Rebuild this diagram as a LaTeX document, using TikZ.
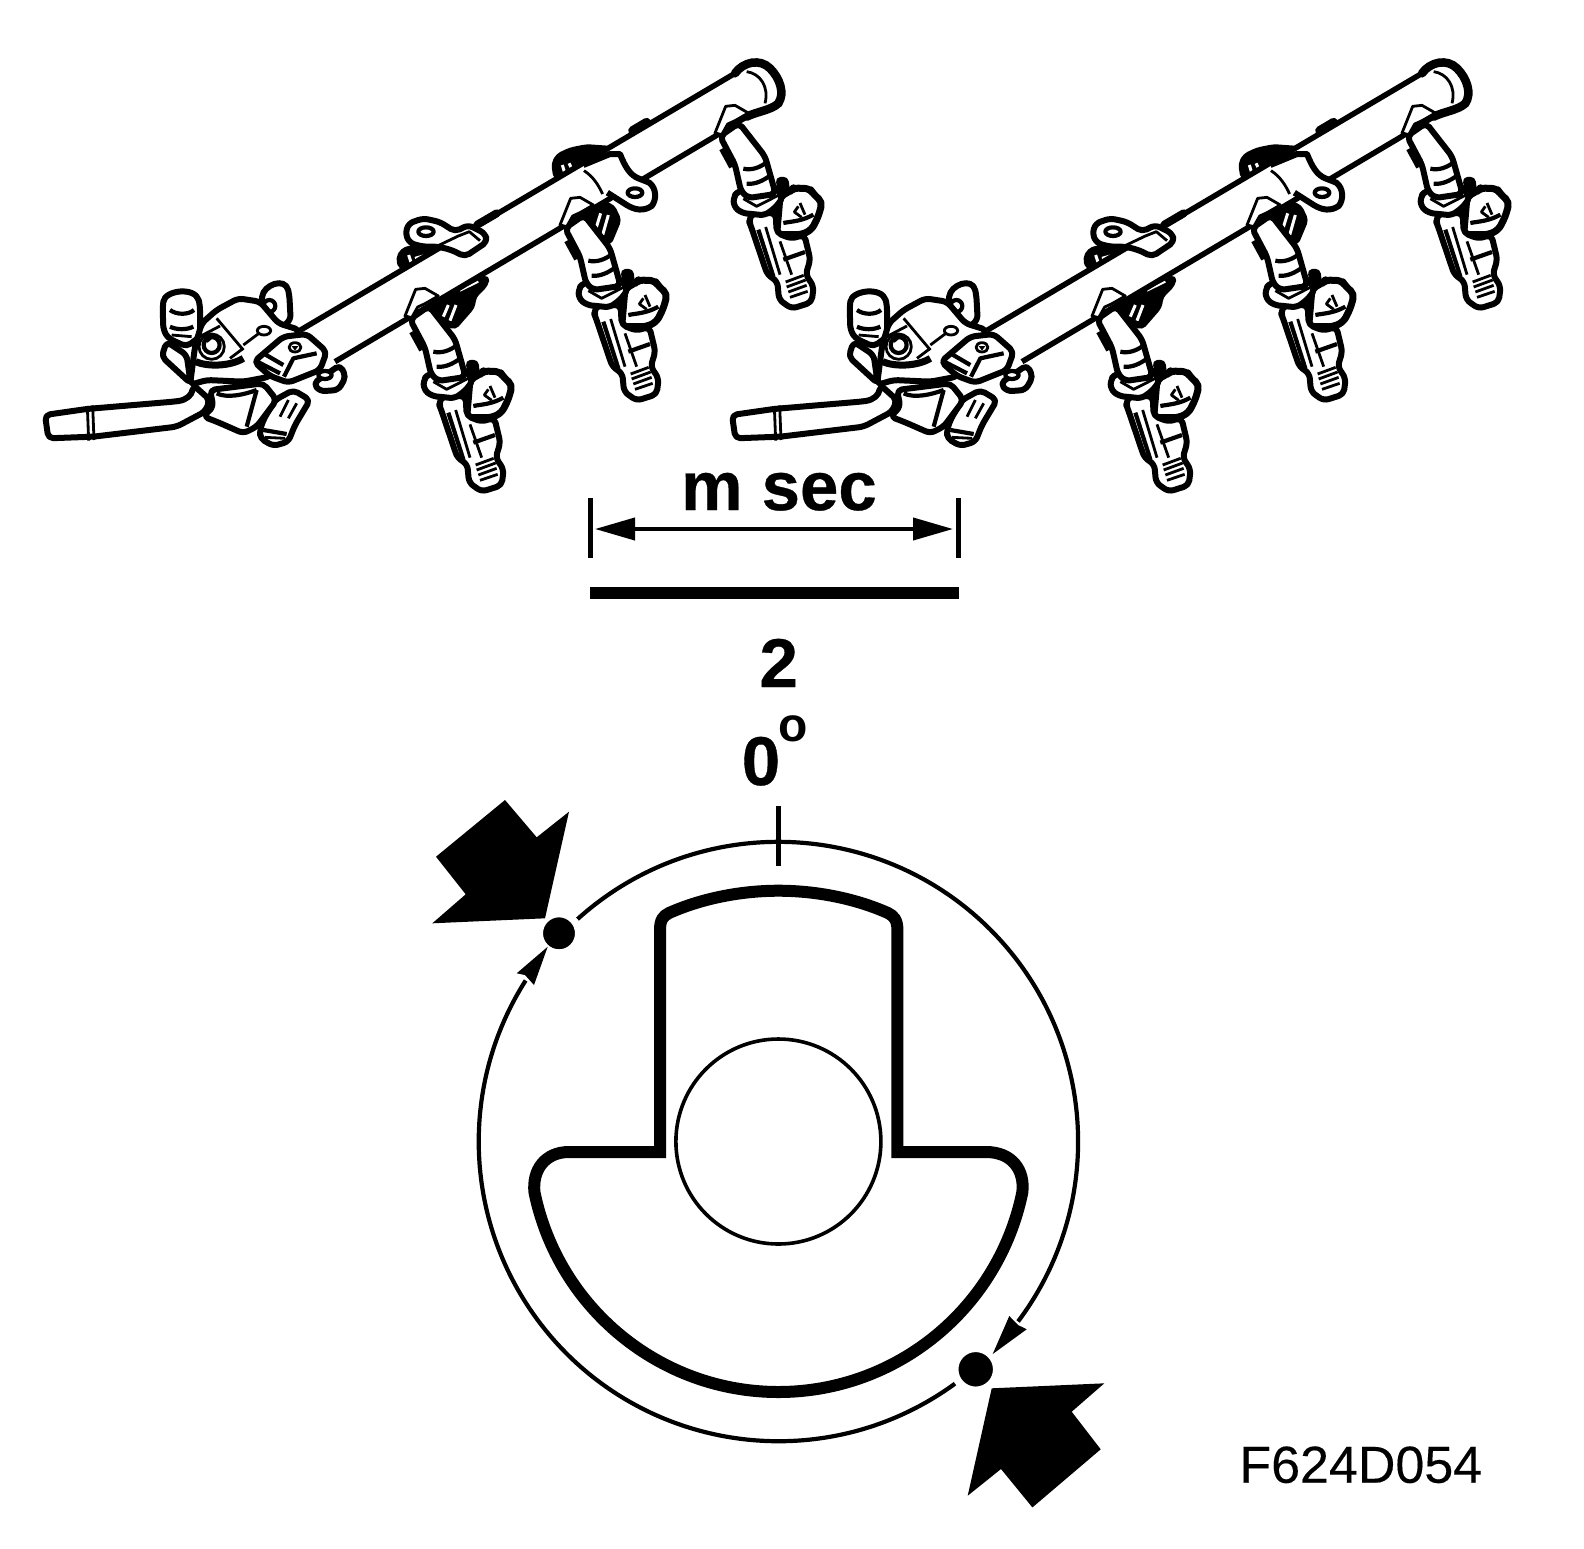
\documentclass[tikz,border=0pt]{standalone}
\usepackage{fontspec}
\setmainfont{Liberation Sans}
\newfontfamily\heavyfont{Liberation Sans}[BoldFeatures={FakeBold=0.5}]
\newfontfamily\codefont{Liberation Sans}[FakeBold=0.25]
\usetikzlibrary{arrows.meta}
\tikzset{
    boldline/.style={line width=6pt, line join=round, fill=white, rounded corners=5pt},
    fineline/.style={line width=2.8pt, line join=round},
    midline/.style={line width=4.2pt, line join=round},
    blackpart/.style={fill=black, draw=black, line width=3pt, line join=round, rounded corners=4pt},
    titletext/.style={font=\fontsize{69}{72}\selectfont\heavyfont\bfseries, inner sep=0pt, anchor=base},
    markdot/.style={circle, fill=black, draw=white, line width=7pt, inner sep=0pt},
    bigarrow/.style={fill=black},
    % Iniettore, coordinate del riquadro centrale
    injector/.pic={
        \begin{scope}[shift={(380,50)}, scale=1/3]
            % Connettore
            \draw[boldline, line width=7pt] (735,715) -- (765,700) -- (775,690) -- (825,692) -- (835,708) -- (862,732) -- (850,775) -- (830,815) -- (800,830) -- (725,830) -- cycle;
            \draw[fineline] (790,745) -- (778,762) -- (800,778);
            \draw[fineline] (795,735) -- (810,770);
            \draw[midline] (745,795) .. controls (770,790) and (800,790) .. (835,770);
            % Corpo inferiore
            \draw[boldline] (648,805) -- (697,950) -- (727,970) -- (732,1025) -- (770,1052) -- (830,1033) -- (836,985) -- (812,950) -- (826,905) -- (808,830) -- (770,842) -- (725,825) -- (722,765) -- (655,765) -- (640,785) -- cycle;
            \draw[midline] (670,815) -- (715,955);
            \draw[fineline] (692,807) -- (735,950);
            \draw[fineline] (735,850) -- (770,950);
            \draw[midline] (745,905) -- (810,882);
            % Filetti
            \draw[fineline] (752,972) -- (806,952);
            \draw[fineline] (755,987) -- (812,966);
            \draw[fineline] (760,1002) -- (815,982);
            \draw[fineline] (765,1018) -- (818,1000);
            % Collare
            \draw[boldline] (610,700) -- (596,715) -- (596,745) -- (620,765) -- (690,772) -- (725,745) -- (745,715) -- (700,670) -- cycle;
            \draw[blackpart] (725,662) -- (756,660) -- (760,698) -- (738,715) -- cycle;
            % Tubo
            \draw[boldline] (555,535) -- (600,620) -- (618,700) -- (640,720) -- (722,708) -- (690,595) -- (612,495) -- cycle;
            \draw[line width=9pt] (565,570) -- (595,625);
            \draw[midline] (625,632) .. controls (650,638) and (675,628) .. (692,615);
            \draw[midline] (635,677) .. controls (660,680) and (685,668) .. (706,652);
            \draw[fineline] (625,722) -- (665,745) -- (730,712);
            % Raccordo
            \draw[fineline, fill=white] (540,525) -- (572,445) -- (600,442) -- (640,465) -- (600,488) -- (578,498) -- (560,530) -- cycle;
        \end{scope}
    },
    % Gruppo completo: collettore, staffe, regolatore
    railunit/.pic={
        \begin{scope}[shift={(380,50)}, scale=1/3]
            % Fermagli dietro
            \draw[blackpart] (620,490) -- (650,450) -- (700,468) -- (720,510) -- (690,582) -- (640,545) -- cycle;
            \draw[white, line width=3pt] (662,490) -- (648,535);
            \draw[white, line width=3pt] (685,495) -- (668,555);
            \draw[blackpart] (155,760) -- (190,720) -- (240,700) -- (325,680) -- (320,705) -- (285,740) -- (280,772) -- (225,835) -- (175,815) -- cycle;
            \draw[white, line width=3pt] (205,765) -- (190,800);
            \draw[white, line width=3pt] (228,765) -- (210,812);
            \draw[white, line width=2pt] (240,722) -- (295,695);
            % Linguette dietro
            \draw[blackpart] (518,342) -- (532,315) -- (570,297) -- (620,287) -- (690,292) -- (610,345) -- (600,370) -- (525,385) -- cycle;
            \draw[white, line width=3pt] (547,345) -- (553,365);
            \draw[white, line width=3pt] (567,340) -- (577,360);
            \draw[blackpart] (52,625) -- (65,600) -- (90,590) -- (170,595) -- (195,605) -- (60,655) -- cycle;
            \draw[white, line width=3pt] (86,615) -- (94,640);
            \draw[white, line width=3pt] (105,625) -- (130,618);
            % Collettore
            \draw[boldline, line width=5.5pt, rounded corners=0pt] (-240,841) -- (1065,70) .. controls (1090,35) and (1140,25) .. (1170,55) .. controls (1200,85) and (1215,130) .. (1195,160) .. controls (1175,180) and (1130,185) .. (1100,200) -- (1000,262) -- (-135,935);
            \draw[line width=8.5pt, line cap=round] (1065,70) .. controls (1090,35) and (1140,25) .. (1170,55) .. controls (1200,85) and (1215,130) .. (1195,160) .. controls (1175,180) and (1130,185) .. (1100,200);
            \draw[line width=9pt, line cap=round] (758,242) -- (800,217);
            \draw[line width=8pt, line cap=round] (292,524) -- (350,490);
            \draw[fineline] (1100,65) .. controls (1140,70) and (1168,110) .. (1155,160);
            % Staffa destra
            \fill[white] (612,352) -- (690,315) -- (725,315) -- (750,370) -- (812,400) -- (825,430) -- (815,462) -- (785,478) -- (740,462) -- (680,430) -- cycle;
            \draw[boldline, fill=none, rounded corners=0pt] (610,345) -- (690,312) -- (720,312) .. controls (735,350) and (750,375) .. (775,385) -- (808,398) .. controls (830,415) and (830,450) .. (815,468) .. controls (790,485) and (765,480) .. (740,465) -- (682,428);
            \draw[fineline] (612,362) .. controls (640,380) and (655,405) .. (668,432);
            \draw[midline, fill=white] (765,428) ellipse (22 and 13);
            % Staffa sinistra
            \draw[boldline] (76,552) -- (86,520) -- (130,505) -- (180,516) -- (225,545) -- (265,525) -- (315,550) -- (322,575) -- (255,620) -- (215,600) -- (175,590) -- (130,590) -- (90,580) -- cycle;
            \draw[fineline] (168,590) -- (235,558) -- (268,545) -- (300,572);
            \draw[midline, fill=white] (138,545) ellipse (23 and 13);
        \end{scope}
        % Iniettori
        \pic at (-155,91) {injector};
        \pic at (0,0) {injector};
        \pic at (155,-92) {injector};
        \begin{scope}[shift={(30,230)}, scale=1/3]
            % Cilindro
            \draw[boldline] (400,300) -- (398,230) .. controls (405,180) and (495,170) .. (510,225) -- (510,320) -- (470,350) -- (415,325) -- cycle;
            \draw[midline] (420,240) .. controls (440,255) and (475,255) .. (492,240);
            \draw[midline] (420,290) .. controls (440,300) and (470,300) .. (490,290);
            \draw[fineline] (425,315) -- (485,320);
            \draw[boldline] (395,380) -- (410,335) -- (470,375) -- (482,460) -- cycle;
            % Spezzone di iniettore
            \draw[boldline] (735,510) -- (790,480) -- (840,510) -- (795,585) -- (775,635) -- (730,648) -- (690,625) -- (690,600) -- (700,570) -- cycle;
            \draw[fineline] (775,510) -- (750,560);
            \draw[fineline] (800,520) -- (775,565);
            \draw[midline] (700,600) -- (770,612);
            \draw[fineline] (705,622) -- (765,625);
            % Tubo di mandata
            \draw[boldline] (45,555) -- (170,537) -- (430,515) .. controls (470,510) and (485,495) .. (490,465) -- (540,510) -- (525,545) -- (440,590) -- (190,620) -- (55,625) -- cycle;
            \draw[fineline] (172,528) -- (176,632);
            \draw[fineline] (188,526) -- (192,630);
            % Corpo inferiore
            \draw[boldline] (540,480) -- (550,530) -- (520,560) -- (560,575) -- (640,610) -- (680,590) -- (740,510) -- (700,460) -- cycle;
            \draw[midline] (560,490) .. controls (590,505) and (640,495) .. (680,480);
            \draw[midline] (680,480) -- (650,590);
            % Perno posteriore
            \draw[boldline] (695,215) .. controls (700,165) and (765,140) .. (778,195) -- (782,270) -- (745,300) -- (690,260) -- cycle;
            \draw[midline] (718,228) circle (18);
            \draw[fineline] (712,262) circle (12);
            % Corpo regolatore
            \draw[boldline] (480,465) -- (495,350) -- (515,280) -- (560,240) -- (625,205) -- (690,215) -- (745,280) -- (810,300) -- (720,440) -- (640,455) -- (530,450) -- cycle;
            \draw[line width=7pt] (497,395) .. controls (530,410) and (600,410) .. (640,385);
            \draw[fineline] (560,265) -- (640,360);
            \draw[fineline] (505,322) -- (570,288);
            \draw[fineline] (640,345) -- (700,300);
            \draw[fineline] (545,350) circle (38);
            \draw[midline] (545,345) circle (24);
            \draw[fineline] (530,335) -- (550,318) -- (570,335);
            \draw[fineline, fill=white] (702,302) ellipse (20 and 13);
            \draw[fineline] (600,385) -- (640,355);
            % Staffa con foro
            \draw[boldline] (850,460) -- (930,405) -- (948,440) -- (925,480) -- (870,484) -- cycle;
            \draw[midline, fill=white] (885,435) ellipse (20 and 12);
            % Sensore
            \draw[boldline] (672,395) -- (760,320) -- (830,312) -- (890,365) -- (870,420) -- (775,458) -- (720,438) -- cycle;
            \draw[midline] (700,370) -- (760,405);
            \draw[midline] (682,395) -- (750,430);
            \draw[midline] (762,440) -- (790,385) -- (860,370);
            \draw[fineline] (795,352) ellipse (18 and 14);
            \fill (785,348) -- (805,348) -- (795,362) -- cycle;
        \end{scope}
    }
}
\begin{document}
\begin{tikzpicture}[x=1pt, y=-1pt]
    \useasboundingbox (0,0) rectangle (1584,1548);
    \fill[white] (0,0) rectangle (1584,1548);

    % Due collettori
    \pic at (0,0) {railunit};
    \pic at (687,0) {railunit};

    % Quota
    \node[titletext] (msec) at (779,510) {m sec};
    \coordinate (tickLtop) at (590.5,498);
    \coordinate (tickLbot) at (590.5,558);
    \coordinate (tickRtop) at (958.5,498);
    \coordinate (tickRbot) at (958.5,558);
    \coordinate (dimL) at (595,529);
    \coordinate (dimR) at (953,529);
    \coordinate (barL) at (590,593);
    \coordinate (barR) at (959,593);
    \draw[line width=5pt] (tickLtop) -- (tickLbot);
    \draw[line width=5pt] (tickRtop) -- (tickRbot);
    \draw[line width=4pt, {Triangle[length=40pt,width=22pt]}-{Triangle[length=40pt,width=22pt]}] (dimL) -- (dimR);
    \draw[line width=12.3pt] (barL) -- (barR);
    \node[titletext] (two) at (778.7,687) {2};
    \node[titletext] (zero) at (761,785) {0};
    \node[inner sep=0pt, font=\fontsize{48}{50}\selectfont\bfseries] (degree) at (793,729) {o};

    % Disco
    \coordinate (centre) at (778.4,1141.5);
    \coordinate (tickTop) at (778.4,806);
    \coordinate (tickBot) at (778.4,866);
    \draw[line width=5pt] (tickTop) -- (tickBot);
    \draw[midline] (centre) ++(-132.1:299.7) arc[start angle=-132.1, end angle=36.9, radius=299.7];
    \draw[midline] (centre) ++(53.9:299.7) arc[start angle=53.9, end angle=212.5, radius=299.7];
    \node[circle, draw, line width=3.6pt, inner sep=0pt, minimum size=205pt] (hub) at (centre) {};

    % Camma
    \draw[line width=12pt] (660,1152) -- (660,930) .. controls (660,920) and (663,916) .. (669,913) .. controls (705,897) and (745,890.7) .. (778.4,890.7) .. controls (812,890.7) and (852,897) .. (888,913) .. controls (894,916) and (897.4,920) .. (897.4,930) -- (897.4,1152) -- (986,1152) .. controls (1012,1152) and (1025,1170) .. (1022.3,1192.5) .. controls (998.3,1308.5) and (896.4,1392) .. (778.4,1392) .. controls (660.4,1392) and (558.5,1308.5) .. (534.5,1192.5) .. controls (532,1170) and (545,1152) .. (569,1152) -- cycle;

    % Segni
    \node[markdot, minimum size=39pt] (dotA) at (559,933.3) {};
    \node[markdot, minimum size=41.5pt] (dotB) at (975.7,1369.3) {};
    \fill (547.7,946.7) -- (516.7,973.3) -- (525,975) -- (534,985) -- cycle;
    \fill (992.7,1354) -- (1009.3,1316) -- (1018,1325) -- (1026.7,1329.3) -- cycle;
    \fill[bigarrow] (505,800) -- (536.7,837.3) -- (569,811.7) -- (545,918.3) -- (432.3,923.3) -- (465.7,894.3) -- (436,856.7) -- cycle;
    \fill[bigarrow] (991.7,1388.3) -- (1104.3,1383.3) -- (1071.7,1411.7) -- (1100.7,1449.3) -- (1032.4,1507.4) -- (1001,1469) -- (967.7,1495.7) -- cycle;

    % Codice
    \node[inner sep=0pt, anchor=base, font=\fontsize{52}{56}\selectfont\codefont] (code) at (1360.8,1482.7) {F624D054};
\end{tikzpicture}
\end{document}
